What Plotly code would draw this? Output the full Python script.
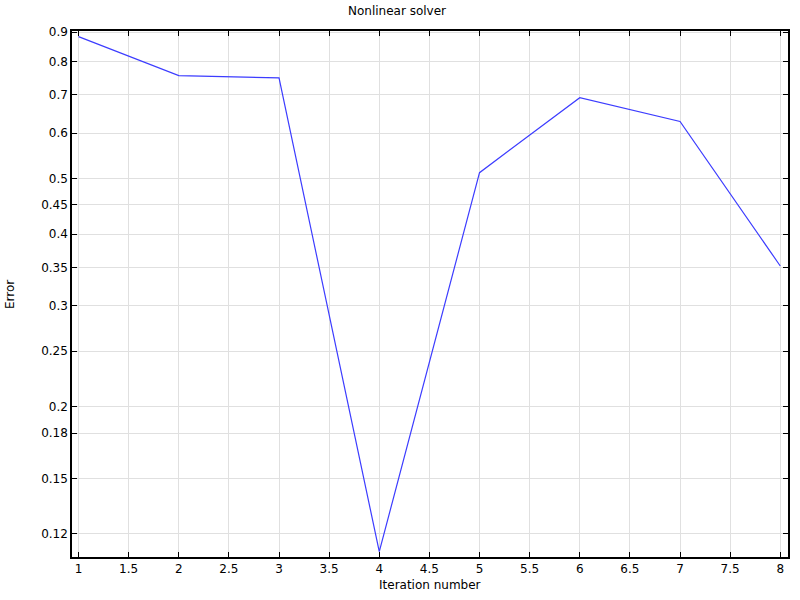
import plotly.graph_objects as go
import math

iterations = [1, 2, 3, 4, 5, 6, 7, 8]
error = [0.884, 0.756, 0.749, 0.1118, 0.512, 0.692, 0.629, 0.352]
y_ticks = [0.12, 0.15, 0.18, 0.2, 0.25, 0.3, 0.35, 0.4, 0.45, 0.5, 0.6, 0.7, 0.8, 0.9]
y_tick_text = ["0.12", "0.15", "0.18", "0.2", "0.25", "0.3", "0.35", "0.4", "0.45", "0.5", "0.6", "0.7", "0.8", "0.9"]
x_ticks = [1, 1.5, 2, 2.5, 3, 3.5, 4, 4.5, 5, 5.5, 6, 6.5, 7, 7.5, 8]

fig = go.Figure()
fig.add_trace(go.Scatter(x=iterations, y=error, mode="lines",
                         line=dict(color="rgb(60,60,255)", width=1.2),
                         showlegend=False))

W, H = 800, 600
L, R, T, B = 72, 12, 31, 43
PW, PH = W - L - R, H - T - B
font = dict(family="DejaVu Sans", size=12, color="black")
fig.update_layout(
    width=W, height=H,
    margin=dict(l=L, r=R, t=T, b=B, autoexpand=False),
    paper_bgcolor="white", plot_bgcolor="white",
    font=font,
    annotations=[
        dict(text="Nonlinear solver", xref="paper", yref="paper",
             x=(397 - L) / PW, y=1 + (T - 11) / PH, xanchor="center", yanchor="middle",
             showarrow=False, font=dict(size=12)),
        dict(text="Iteration number", xref="paper", yref="paper",
             x=(430 - L) / PW, y=-(585 - (H - B)) / PH,
             xanchor="center", yanchor="middle", showarrow=False, font=dict(size=12)),
        dict(text="Error", xref="paper", yref="paper", textangle=-90,
             x=-(L - 10) / PW, y=(H - B - 294) / PH,
             xanchor="center", yanchor="middle", showarrow=False, font=dict(size=12)),
    ],
)
fig.update_xaxes(range=[0.935, 8.077], tickvals=x_ticks, automargin=False,
                 showline=True, linecolor="black", linewidth=1.5, mirror="ticks",
                 ticks="inside", ticklen=5, tickcolor="black",
                 showgrid=True, gridcolor="#e0e0e0", zeroline=False,
                 tickfont=dict(size=12))
fig.update_yaxes(type="log", range=[math.log10(0.1094), math.log10(0.9044)],
                 tickvals=y_ticks, ticktext=y_tick_text, automargin=False,
                 showline=True, linecolor="black", linewidth=1.5, mirror="ticks",
                 ticks="inside", ticklen=5, tickcolor="black",
                 showgrid=True, gridcolor="#e0e0e0", zeroline=False,
                 tickfont=dict(size=12))

fig.write_html("out.html", config={"displayModeBar": False},
               post_script="document.body.style.margin='0';")
